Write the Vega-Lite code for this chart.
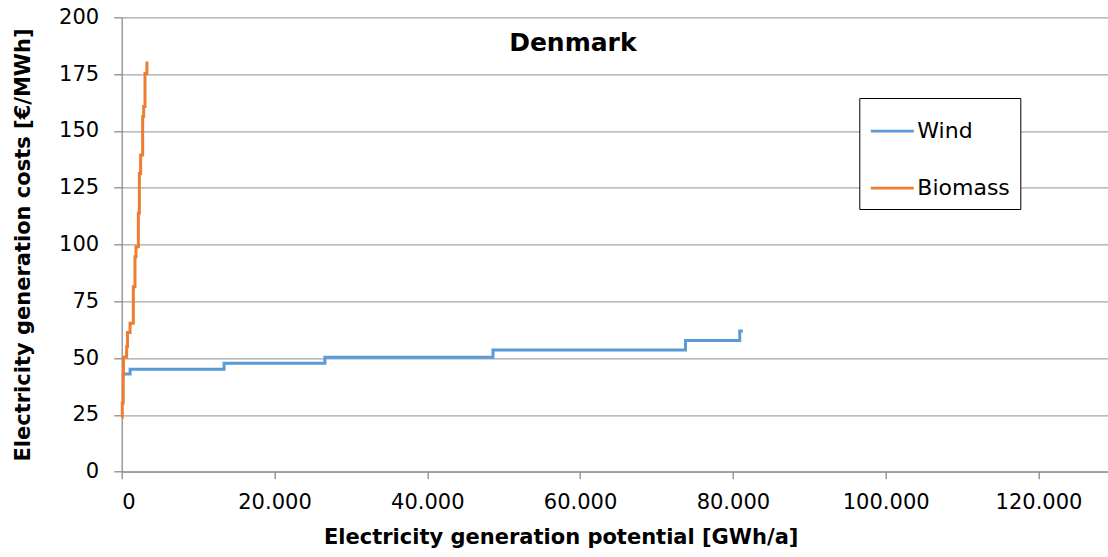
{
  "$schema": "https://vega.github.io/schema/vega-lite/v6.json",
  "autosize": {"type": "none"},
  "width": 986.3,
  "height": 454.4,
  "padding": {"left": 121.7, "top": 17.3, "right": 0, "bottom": 85.3},
  "background": "white",
  "title": {
    "text": "Denmark",
    "font": "DejaVu Sans",
    "fontSize": 25,
    "fontWeight": "bold",
    "color": "#000000",
    "anchor": "middle",
    "frame": "group",
    "baseline": "alphabetic",
    "offset": -70,
    "dx": -42
  },
  "data": {
    "values": [
      {"series": "Wind", "potential": 0, "cost": 43.0},
      {"series": "Wind", "potential": 1100, "cost": 45.1},
      {"series": "Wind", "potential": 13400, "cost": 47.7},
      {"series": "Wind", "potential": 26600, "cost": 50.4},
      {"series": "Wind", "potential": 48600, "cost": 53.6},
      {"series": "Wind", "potential": 73800, "cost": 57.7},
      {"series": "Wind", "potential": 80900, "cost": 61.9},
      {"series": "Wind", "potential": 81300, "cost": 61.9},
      {"series": "Biomass", "potential": 0, "cost": 24.0},
      {"series": "Biomass", "potential": 80, "cost": 30.2},
      {"series": "Biomass", "potential": 200, "cost": 42.0},
      {"series": "Biomass", "potential": 230, "cost": 50.4},
      {"series": "Biomass", "potential": 650, "cost": 55.0},
      {"series": "Biomass", "potential": 760, "cost": 61.3},
      {"series": "Biomass", "potential": 1090, "cost": 65.3},
      {"series": "Biomass", "potential": 1520, "cost": 81.4},
      {"series": "Biomass", "potential": 1740, "cost": 94.6},
      {"series": "Biomass", "potential": 1870, "cost": 99.0},
      {"series": "Biomass", "potential": 2180, "cost": 113.7},
      {"series": "Biomass", "potential": 2310, "cost": 131.3},
      {"series": "Biomass", "potential": 2480, "cost": 139.4},
      {"series": "Biomass", "potential": 2745, "cost": 156.3},
      {"series": "Biomass", "potential": 2875, "cost": 160.7},
      {"series": "Biomass", "potential": 3050, "cost": 175.3},
      {"series": "Biomass", "potential": 3300, "cost": 180.5}
    ]
  },
  "mark": {"type": "line", "interpolate": "step-after", "strokeWidth": 3, "strokeJoin": "miter", "strokeCap": "butt"},
  "encoding": {
    "x": {
      "field": "potential",
      "type": "quantitative",
      "scale": {"domain": [0, 129100], "nice": false, "zero": true},
      "axis": {
        "title": "Electricity generation potential [GWh/a]",
        "values": [0, 20000, 40000, 60000, 80000, 100000, 120000],
        "labelExpr": "replace(format(datum.value, ','), ',', '.')",
        "grid": false,
        "tickSize": 7,
        "labelPadding": 13,
        "titlePadding": 14,
        "titleX": 439,
        "titleAlign": "center"
      }
    },
    "y": {
      "field": "cost",
      "type": "quantitative",
      "scale": {"domain": [0, 200], "nice": false},
      "axis": {
        "title": "Electricity generation costs [€/MWh]",
        "values": [0, 25, 50, 75, 100, 125, 150, 175, 200],
        "grid": true,
        "tickSize": 8,
        "labelPadding": 15,
        "titlePadding": 25
      }
    },
    "color": {
      "field": "series",
      "type": "nominal",
      "sort": ["Wind", "Biomass"],
      "scale": {"domain": ["Wind", "Biomass"], "range": ["#5B9BD5", "#ED7D31"]},
      "legend": {
        "title": null,
        "orient": "none",
        "legendX": 737.6,
        "legendY": 80.7,
        "symbolType": "stroke",
        "symbolSize": 1849,
        "symbolStrokeWidth": 2.75,
        "labelFont": "DejaVu Sans",
        "labelFontSize": 22,
        "labelColor": "#000000",
        "labelOffset": 2,
        "rowPadding": 23,
        "padding": 10,
        "strokeColor": "#000000",
        "fillColor": "#ffffff"
      }
    }
  },
  "config": {
    "view": {"stroke": null},
    "axis": {
      "labelFont": "DejaVu Sans",
      "labelFontSize": 21,
      "labelColor": "#000000",
      "titleFont": "DejaVu Sans",
      "titleFontSize": 21,
      "titleFontWeight": "bold",
      "titleColor": "#000000",
      "domainColor": "#8C8C8C",
      "domainWidth": 1.3,
      "tickColor": "#8C8C8C",
      "tickWidth": 1.3,
      "gridColor": "#A6A6A6",
      "gridWidth": 1.3
    },
    "legend": {"strokeWidth": 1}
  }
}
